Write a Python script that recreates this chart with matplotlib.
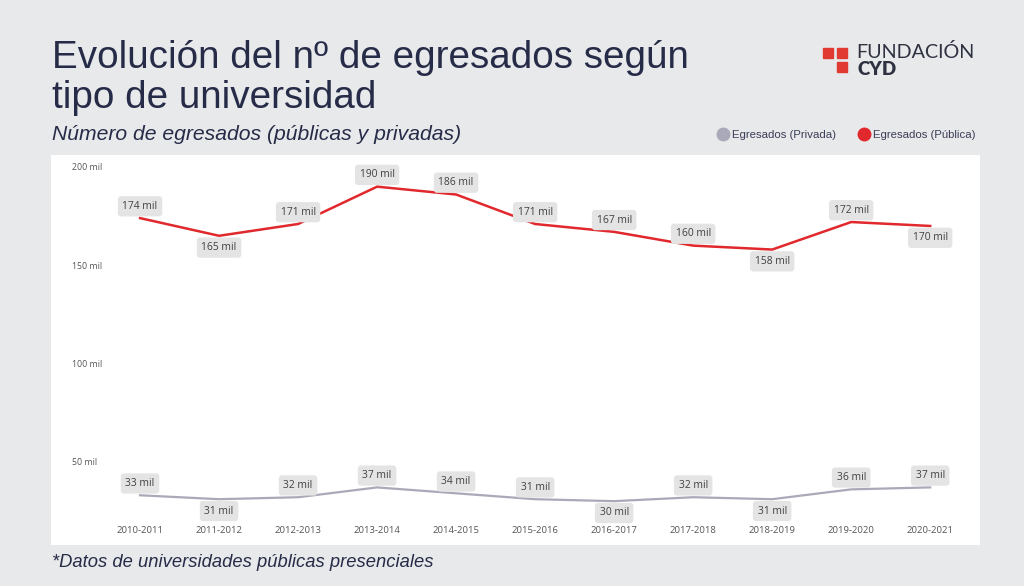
import matplotlib.pyplot as plt
from matplotlib.lines import Line2D
from matplotlib.patches import Rectangle

# datos (miles de egresados)
cursos = ['2010-2011', '2011-2012', '2012-2013', '2013-2014', '2014-2015', '2015-2016',
          '2016-2017', '2017-2018', '2018-2019', '2019-2020', '2020-2021']
publica = [174, 165, 171, 190, 186, 171, 167, 160, 158, 172, 170]
privada = [33, 31, 32, 37, 34, 31, 30, 32, 31, 36, 37]

# posicion de las etiquetas: 1 arriba, -1 abajo
pos_publica = [1, -1, 1, 1, 1, 1, 1, 1, -1, 1, -1]
pos_privada = [1, -1, 1, 1, 1, 1, -1, 1, -1, 1, 1]

BG = '#e8e9eb'
NAVY = '#262b47'
ROJO = '#e0282d'
GRIS = '#a9a9b9'

W, H = 1024, 586
fig = plt.figure(figsize=(W / 100, H / 100), dpi=100, facecolor=BG)

# panel blanco del grafico
left, right, top, bottom = 51, 980, 155, 545
ax = fig.add_axes([left / W, 1 - bottom / H, (right - left) / W, (bottom - top) / H])
ax.set_facecolor('white')
for s in ax.spines.values():
    s.set_visible(False)

x = list(range(len(cursos)))
ax.plot(x, privada, color=GRIS, lw=1.6, solid_joinstyle='miter')
ax.plot(x, publica, color=ROJO, lw=1.8, solid_joinstyle='miter')

ax.set_xlim(-1.127, 10.63)
ax.set_ylim(7.7, 206.1)

ax.set_yticks([50, 100, 150, 200])
ax.set_yticklabels(['50 mil', '100 mil', '150 mil', '200 mil'])
ax.tick_params(axis='y', length=0, pad=-15, labelsize=6.3, labelcolor='#555555')
for t in ax.get_yticklabels():
    t.set_horizontalalignment('left')
    t.set_fontfamily('Open Sans')

ax.set_xticks(x)
ax.set_xticklabels(cursos)
ax.tick_params(axis='x', length=0, pad=-14, labelsize=6.8, labelcolor='#555555')
for t in ax.get_xticklabels():
    t.set_fontfamily('Open Sans')

def etiquetas(valores, posiciones):
    for i, (v, p) in enumerate(zip(valores, posiciones)):
        ax.annotate(f'{v} mil', (i, v), xytext=(0, 8.5 * p), textcoords='offset points',
                    ha='center', va='center', fontsize=7.4, color='#404040', family='Open Sans',
                    bbox=dict(boxstyle='round,pad=0.45,rounding_size=0.3', fc='#e4e4e4', ec='none'))

etiquetas(publica, pos_publica)
etiquetas(privada, pos_privada)

# titulos
fig.text(52 / W, 1 - 68 / H, 'Evolución del nº de egresados según',
         fontsize=27.8, color=NAVY, family='Liberation Sans', va='baseline')
fig.text(52 / W, 1 - 108 / H, 'tipo de universidad',
         fontsize=27.8, color=NAVY, family='Liberation Sans', va='baseline')
fig.text(52 / W, 1 - 140 / H, 'Número de egresados (públicas y privadas)',
         fontsize=15.2, color=NAVY, family='Liberation Sans', style='italic', va='baseline')
fig.text(52 / W, 1 - 567 / H, '*Datos de universidades públicas presenciales',
         fontsize=13.2, color=NAVY, family='Liberation Sans', style='italic', va='baseline')

# leyenda
handles = [Line2D([], [], marker='o', ls='none', ms=9, color=GRIS, label='Egresados (Privada)'),
           Line2D([], [], marker='o', ls='none', ms=9, color=ROJO, label='Egresados (Pública)')]
fig.legend(handles=handles, loc='center right', bbox_to_anchor=(986 / W, 1 - 135 / H), ncol=2,
           frameon=False, handletextpad=0.3, columnspacing=2.0, handlelength=1.0,
           prop={'family': 'Liberation Sans', 'size': 8.2}, labelcolor='#3a3d55')

# logo Fundacion CYD
for (lx, ly) in [(823, 48), (837, 48), (837, 62)]:
    fig.patches.append(Rectangle((lx / W, 1 - (ly + 10) / H), 10 / W, 10 / H,
                                 transform=fig.transFigure, color='#e03a32', figure=fig))
fig.text(856 / W, 1 - 58 / H, 'FUNDACIÓN', fontsize=14.2, color='#2e3140',
         family='Lato', fontweight='normal', va='baseline')
fig.text(857 / W, 1 - 75 / H, 'CYD', fontsize=13.5, color='#2e3140',
         family='Lato', fontweight='heavy', va='baseline')

fig.savefig('out.png', dpi=100, facecolor=BG)
